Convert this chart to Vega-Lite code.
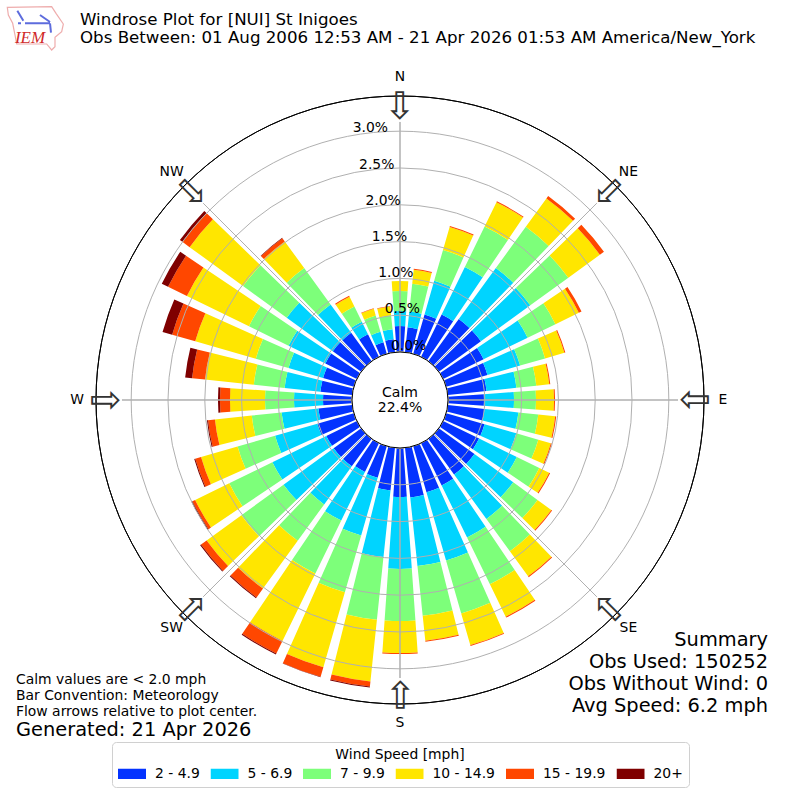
{
  "$schema": "https://vega.github.io/schema/vega-lite/v6.json",
  "width": 800,
  "height": 800,
  "padding": 0,
  "autosize": {"type": "fit", "contains": "padding"},
  "background": "white",
  "config": {"view": {"stroke": null}, "font": "DejaVu Sans"},
  "datasets": {
    "rose": [
      {"dir":0,"speed":"2 - 4.9","pct":0.353},{"dir":0,"speed":"5 - 6.9","pct":0.204},{"dir":0,"speed":"7 - 9.9","pct":0.272},{"dir":0,"speed":"10 - 14.9","pct":0.136},
      {"dir":10,"speed":"2 - 4.9","pct":0.34},{"dir":10,"speed":"5 - 6.9","pct":0.217},{"dir":10,"speed":"7 - 9.9","pct":0.38},{"dir":10,"speed":"10 - 14.9","pct":0.19},{"dir":10,"speed":"15 - 19.9","pct":0.014},
      {"dir":20,"speed":"2 - 4.9","pct":0.557},{"dir":20,"speed":"5 - 6.9","pct":0.476},{"dir":20,"speed":"7 - 9.9","pct":0.435},{"dir":20,"speed":"10 - 14.9","pct":0.326},{"dir":20,"speed":"15 - 19.9","pct":0.014},
      {"dir":30,"speed":"2 - 4.9","pct":0.639},{"dir":30,"speed":"5 - 6.9","pct":0.72},{"dir":30,"speed":"7 - 9.9","pct":0.611},{"dir":30,"speed":"10 - 14.9","pct":0.367},{"dir":30,"speed":"15 - 19.9","pct":0.014},
      {"dir":40,"speed":"2 - 4.9","pct":0.707},{"dir":40,"speed":"5 - 6.9","pct":0.856},{"dir":40,"speed":"7 - 9.9","pct":0.693},{"dir":40,"speed":"10 - 14.9","pct":0.476},{"dir":40,"speed":"15 - 19.9","pct":0.041},
      {"dir":50,"speed":"2 - 4.9","pct":0.707},{"dir":50,"speed":"5 - 6.9","pct":0.829},{"dir":50,"speed":"7 - 9.9","pct":0.639},{"dir":50,"speed":"10 - 14.9","pct":0.53},{"dir":50,"speed":"15 - 19.9","pct":0.068},
      {"dir":60,"speed":"2 - 4.9","pct":0.611},{"dir":60,"speed":"5 - 6.9","pct":0.666},{"dir":60,"speed":"7 - 9.9","pct":0.421},{"dir":60,"speed":"10 - 14.9","pct":0.353},{"dir":60,"speed":"15 - 19.9","pct":0.041},
      {"dir":70,"speed":"2 - 4.9","pct":0.584},{"dir":70,"speed":"5 - 6.9","pct":0.462},{"dir":70,"speed":"7 - 9.9","pct":0.353},{"dir":70,"speed":"10 - 14.9","pct":0.272},{"dir":70,"speed":"15 - 19.9","pct":0.014},
      {"dir":80,"speed":"2 - 4.9","pct":0.53},{"dir":80,"speed":"5 - 6.9","pct":0.408},{"dir":80,"speed":"7 - 9.9","pct":0.272},{"dir":80,"speed":"10 - 14.9","pct":0.177},{"dir":80,"speed":"15 - 19.9","pct":0.014},
      {"dir":90,"speed":"2 - 4.9","pct":0.489},{"dir":90,"speed":"5 - 6.9","pct":0.408},{"dir":90,"speed":"7 - 9.9","pct":0.299},{"dir":90,"speed":"10 - 14.9","pct":0.245},{"dir":90,"speed":"15 - 19.9","pct":0.014},
      {"dir":100,"speed":"2 - 4.9","pct":0.503},{"dir":100,"speed":"5 - 6.9","pct":0.462},{"dir":100,"speed":"7 - 9.9","pct":0.272},{"dir":100,"speed":"10 - 14.9","pct":0.231},{"dir":100,"speed":"15 - 19.9","pct":0.014},
      {"dir":110,"speed":"2 - 4.9","pct":0.543},{"dir":110,"speed":"5 - 6.9","pct":0.448},{"dir":110,"speed":"7 - 9.9","pct":0.312},{"dir":110,"speed":"10 - 14.9","pct":0.177},{"dir":110,"speed":"15 - 19.9","pct":0.014},
      {"dir":120,"speed":"2 - 4.9","pct":0.543},{"dir":120,"speed":"5 - 6.9","pct":0.571},{"dir":120,"speed":"7 - 9.9","pct":0.34},{"dir":120,"speed":"10 - 14.9","pct":0.149},{"dir":120,"speed":"15 - 19.9","pct":0.014},
      {"dir":130,"speed":"2 - 4.9","pct":0.598},{"dir":130,"speed":"5 - 6.9","pct":0.652},{"dir":130,"speed":"7 - 9.9","pct":0.408},{"dir":130,"speed":"10 - 14.9","pct":0.231},{"dir":130,"speed":"15 - 19.9","pct":0.014},
      {"dir":140,"speed":"2 - 4.9","pct":0.598},{"dir":140,"speed":"5 - 6.9","pct":0.747},{"dir":140,"speed":"7 - 9.9","pct":0.543},{"dir":140,"speed":"10 - 14.9","pct":0.421},{"dir":140,"speed":"15 - 19.9","pct":0.014},
      {"dir":150,"speed":"2 - 4.9","pct":0.639},{"dir":150,"speed":"5 - 6.9","pct":0.788},{"dir":150,"speed":"7 - 9.9","pct":0.707},{"dir":150,"speed":"10 - 14.9","pct":0.489},{"dir":150,"speed":"15 - 19.9","pct":0.014},
      {"dir":160,"speed":"2 - 4.9","pct":0.652},{"dir":160,"speed":"5 - 6.9","pct":0.965},{"dir":160,"speed":"7 - 9.9","pct":0.747},{"dir":160,"speed":"10 - 14.9","pct":0.448},{"dir":160,"speed":"15 - 19.9","pct":0.014},
      {"dir":170,"speed":"2 - 4.9","pct":0.679},{"dir":170,"speed":"5 - 6.9","pct":0.938},{"dir":170,"speed":"7 - 9.9","pct":0.679},{"dir":170,"speed":"10 - 14.9","pct":0.34},{"dir":170,"speed":"15 - 19.9","pct":0.014},
      {"dir":180,"speed":"2 - 4.9","pct":0.666},{"dir":180,"speed":"5 - 6.9","pct":0.978},{"dir":180,"speed":"7 - 9.9","pct":0.707},{"dir":180,"speed":"10 - 14.9","pct":0.435},{"dir":180,"speed":"15 - 19.9","pct":0.014},
      {"dir":190,"speed":"2 - 4.9","pct":0.584},{"dir":190,"speed":"5 - 6.9","pct":0.91},{"dir":190,"speed":"7 - 9.9","pct":0.856},{"dir":190,"speed":"10 - 14.9","pct":0.842},{"dir":190,"speed":"15 - 19.9","pct":0.068},{"dir":190,"speed":"20+","pct":0.014},
      {"dir":200,"speed":"2 - 4.9","pct":0.448},{"dir":200,"speed":"5 - 6.9","pct":0.815},{"dir":200,"speed":"7 - 9.9","pct":0.802},{"dir":200,"speed":"10 - 14.9","pct":1.06},{"dir":200,"speed":"15 - 19.9","pct":0.136},{"dir":200,"speed":"20+","pct":0.007},
      {"dir":210,"speed":"2 - 4.9","pct":0.435},{"dir":210,"speed":"5 - 6.9","pct":0.734},{"dir":210,"speed":"7 - 9.9","pct":0.802},{"dir":210,"speed":"10 - 14.9","pct":1.019},{"dir":210,"speed":"15 - 19.9","pct":0.19},{"dir":210,"speed":"20+","pct":0.014},
      {"dir":220,"speed":"2 - 4.9","pct":0.462},{"dir":220,"speed":"5 - 6.9","pct":0.639},{"dir":220,"speed":"7 - 9.9","pct":0.611},{"dir":220,"speed":"10 - 14.9","pct":0.802},{"dir":220,"speed":"15 - 19.9","pct":0.149},{"dir":220,"speed":"20+","pct":0.014},
      {"dir":230,"speed":"2 - 4.9","pct":0.462},{"dir":230,"speed":"5 - 6.9","pct":0.842},{"dir":230,"speed":"7 - 9.9","pct":0.707},{"dir":230,"speed":"10 - 14.9","pct":0.584},{"dir":230,"speed":"15 - 19.9","pct":0.095},{"dir":230,"speed":"20+","pct":0.014},
      {"dir":240,"speed":"2 - 4.9","pct":0.462},{"dir":240,"speed":"5 - 6.9","pct":0.815},{"dir":240,"speed":"7 - 9.9","pct":0.652},{"dir":240,"speed":"10 - 14.9","pct":0.516},{"dir":240,"speed":"15 - 19.9","pct":0.041},{"dir":240,"speed":"20+","pct":0.014},
      {"dir":250,"speed":"2 - 4.9","pct":0.516},{"dir":250,"speed":"5 - 6.9","pct":0.598},{"dir":250,"speed":"7 - 9.9","pct":0.53},{"dir":250,"speed":"10 - 14.9","pct":0.516},{"dir":250,"speed":"15 - 19.9","pct":0.082},{"dir":250,"speed":"20+","pct":0.014},
      {"dir":260,"speed":"2 - 4.9","pct":0.462},{"dir":260,"speed":"5 - 6.9","pct":0.503},{"dir":260,"speed":"7 - 9.9","pct":0.408},{"dir":260,"speed":"10 - 14.9","pct":0.503},{"dir":260,"speed":"15 - 19.9","pct":0.095},{"dir":260,"speed":"20+","pct":0.014},
      {"dir":270,"speed":"2 - 4.9","pct":0.394},{"dir":270,"speed":"5 - 6.9","pct":0.394},{"dir":270,"speed":"7 - 9.9","pct":0.394},{"dir":270,"speed":"10 - 14.9","pct":0.476},{"dir":270,"speed":"15 - 19.9","pct":0.136},{"dir":270,"speed":"20+","pct":0.027},
      {"dir":280,"speed":"2 - 4.9","pct":0.435},{"dir":280,"speed":"5 - 6.9","pct":0.489},{"dir":280,"speed":"7 - 9.9","pct":0.421},{"dir":280,"speed":"10 - 14.9","pct":0.666},{"dir":280,"speed":"15 - 19.9","pct":0.177},{"dir":280,"speed":"20+","pct":0.095},
      {"dir":290,"speed":"2 - 4.9","pct":0.435},{"dir":290,"speed":"5 - 6.9","pct":0.489},{"dir":290,"speed":"7 - 9.9","pct":0.462},{"dir":290,"speed":"10 - 14.9","pct":0.856},{"dir":290,"speed":"15 - 19.9","pct":0.326},{"dir":290,"speed":"20+","pct":0.136},
      {"dir":300,"speed":"2 - 4.9","pct":0.476},{"dir":300,"speed":"5 - 6.9","pct":0.557},{"dir":300,"speed":"7 - 9.9","pct":0.598},{"dir":300,"speed":"10 - 14.9","pct":0.938},{"dir":300,"speed":"15 - 19.9","pct":0.285},{"dir":300,"speed":"20+","pct":0.095},
      {"dir":310,"speed":"2 - 4.9","pct":0.476},{"dir":310,"speed":"5 - 6.9","pct":0.774},{"dir":310,"speed":"7 - 9.9","pct":0.734},{"dir":310,"speed":"10 - 14.9","pct":0.897},{"dir":310,"speed":"15 - 19.9","pct":0.122},{"dir":310,"speed":"20+","pct":0.041},
      {"dir":320,"speed":"2 - 4.9","pct":0.476},{"dir":320,"speed":"5 - 6.9","pct":0.476},{"dir":320,"speed":"7 - 9.9","pct":0.611},{"dir":320,"speed":"10 - 14.9","pct":0.448},{"dir":320,"speed":"15 - 19.9","pct":0.054},{"dir":320,"speed":"20+","pct":0.007},
      {"dir":330,"speed":"2 - 4.9","pct":0.34},{"dir":330,"speed":"5 - 6.9","pct":0.19},{"dir":330,"speed":"7 - 9.9","pct":0.231},{"dir":330,"speed":"10 - 14.9","pct":0.149},{"dir":330,"speed":"15 - 19.9","pct":0.014},
      {"dir":340,"speed":"2 - 4.9","pct":0.163},{"dir":340,"speed":"5 - 6.9","pct":0.149},{"dir":340,"speed":"7 - 9.9","pct":0.231},{"dir":340,"speed":"10 - 14.9","pct":0.095},{"dir":340,"speed":"15 - 19.9","pct":0.007},
      {"dir":350,"speed":"2 - 4.9","pct":0.177},{"dir":350,"speed":"5 - 6.9","pct":0.136},{"dir":350,"speed":"7 - 9.9","pct":0.19},{"dir":350,"speed":"10 - 14.9","pct":0.122},{"dir":350,"speed":"15 - 19.9","pct":0.007}
    ],
    "rings": [
      {"pct":0.0,"label":"0.0%"},{"pct":0.5,"label":"0.5%"},{"pct":1.0,"label":"1.0%"},{"pct":1.5,"label":"1.5%"},
      {"pct":2.0,"label":"2.0%"},{"pct":2.5,"label":"2.5%"},{"pct":3.0,"label":"3.0%"}
    ],
    "compass": [
      {"name":"N","deg":0},{"name":"NE","deg":45},{"name":"E","deg":90},{"name":"SE","deg":135},
      {"name":"S","deg":180},{"name":"SW","deg":225},{"name":"W","deg":270},{"name":"NW","deg":315}
    ]
  },
  "resolve": {"scale": {"theta": "independent", "x": "independent", "y": "independent"}},
  "layer": [
    {
      "data": {"name": "rose"},
      "transform": [{"stack": "pct", "groupby": ["dir"], "as": ["pct0", "pct1"]}],
      "mark": {"type": "arc"},
      "encoding": {
        "theta": {"field": "dir", "type": "ordinal", "scale": {"type": "band", "range": [-0.0873, 6.1959], "paddingInner": 0.2, "paddingOuter": 0.1}},
        "radius": {"field": "pct1", "type": "quantitative", "scale": {"domain": [0, 3.478], "range": [48, 304]}},
        "radius2": {"field": "pct0"},
        "color": {
          "field": "speed",
          "type": "nominal",
          "scale": {
            "domain": ["2 - 4.9", "5 - 6.9", "7 - 9.9", "10 - 14.9", "15 - 19.9", "20+"],
            "range": ["#0433ff", "#00d4ff", "#7dff7a", "#ffe600", "#ff4700", "#7f0000"]
          },
          "legend": {
            "title": "Wind Speed [mph]",
            "orient": "none",
            "legendX": 112,
            "legendY": 742,
            "direction": "horizontal",
            "columns": 6,
            "titleAnchor": "middle",
            "titleFontSize": 13.9,
            "titleFontWeight": "normal",
            "titleColor": "black",
            "titlePadding": 5,
            "labelFontSize": 13.9,
            "labelColor": "black",
            "labelOffset": 9,
            "symbolType": "M-1,-0.36H1V0.36H-1Z",
            "symbolSize": 784,
            "symbolStrokeWidth": 0,
            "clipHeight": 14,
            "columnPadding": 10.5,
            "rowPadding": 0,
            "padding": 6,
            "fillColor": "white",
            "strokeColor": "#d0d0d0",
            "cornerRadius": 4
          }
        }
      }
    },
    {
      "data": {"name": "rings"},
      "transform": [{"filter": "datum.pct > 0"}],
      "mark": {"type": "arc", "theta": 0, "theta2": 6.2832, "fill": null, "stroke": "#b0b0b0", "strokeWidth": 1},
      "encoding": {
        "radius": {"field": "pct", "type": "quantitative", "stack": null, "scale": {"domain": [0, 3.478], "range": [48, 304]}}
      }
    },
    {
      "data": {"name": "compass"},
      "mark": {"type": "arc", "fill": null, "stroke": "#b0b0b0", "strokeWidth": 1},
      "encoding": {
        "theta": {"field": "deg", "type": "quantitative", "stack": null, "scale": {"domain": [0, 360], "range": [0, 6.2832]}},
        "theta2": {"field": "deg"},
        "radius": {"datum": 3.125, "scale": {"domain": [0, 3.478], "range": [48, 304]}},
        "radius2": {"datum": 0}
      }
    },
    {
      "data": {"values": [{"edge": "calm"}]},
      "mark": {"type": "arc", "theta": 0, "theta2": 6.2832, "fill": "white", "stroke": "black", "strokeWidth": 1},
      "encoding": {"radius": {"datum": 0, "scale": {"domain": [0, 3.478], "range": [48, 304]}}, "radius2": {"value": 0}}
    },
    {
      "data": {"values": [{"edge": "outer"}]},
      "mark": {"type": "arc", "theta": 0, "theta2": 6.2832, "fill": null, "stroke": "black", "strokeWidth": 1},
      "encoding": {"radius": {"datum": 3.478, "scale": {"domain": [0, 3.478], "range": [48, 304]}}, "radius2": {"datum": 3.478}}
    },
    {
      "data": {"name": "rings"},
      "mark": {"type": "text", "theta": 6.1087, "dx": 17, "dy": -7, "fontSize": 13.9, "color": "black", "align": "center", "baseline": "middle"},
      "encoding": {
        "radius": {"field": "pct", "type": "quantitative", "scale": {"domain": [0, 3.478], "range": [48, 304]}},
        "text": {"field": "label"}
      }
    },
    {
      "data": {"name": "compass"},
      "mark": {"type": "text", "fontSize": 13.9, "color": "black", "align": "center", "baseline": "middle"},
      "encoding": {
        "theta": {"field": "deg", "type": "quantitative", "scale": {"domain": [0, 360], "range": [0, 6.2832]}},
        "radius": {"value": 323},
        "text": {"field": "name"}
      }
    },
    {
      "data": {"name": "compass"},
      "mark": {"type": "text", "text": "⇩", "font": "DejaVu Sans", "fontSize": 38, "fill": "#333333", "align": "center", "baseline": "middle"},
      "encoding": {
        "theta": {"field": "deg", "type": "quantitative", "scale": {"domain": [0, 360], "range": [0, 6.2832]}},
        "radius": {"value": 292},
        "angle": {"field": "deg", "type": "quantitative", "scale": {"domain": [0, 360], "range": [0, 360]}}
      }
    },
    {
      "data": {"values": [{"text": ["Calm", "22.4%"]}]},
      "mark": {"type": "text", "fontSize": 14, "lineHeight": 15, "dy": -7.5, "color": "black", "align": "center", "baseline": "middle"},
      "encoding": {"text": {"field": "text"}}
    },
    {
      "data": {"values": [
        {"side": "left", "line": "1", "text": "Windrose Plot for [NUI] St Inigoes"},
        {"side": "left", "line": "2", "text": "Obs Between: 01 Aug 2006 12:53 AM - 21 Apr 2026 01:53 AM America/New_York"}
      ]},
      "mark": {"type": "text", "fontSize": 16.67, "color": "black", "align": "left", "baseline": "middle"},
      "encoding": {
        "x": {"field": "side", "type": "nominal", "axis": null, "scale": {"type": "point", "domain": ["left", "right"], "range": [80, 800], "padding": 0}},
        "y": {"field": "line", "type": "nominal", "axis": null, "scale": {"type": "point", "domain": ["1", "2"], "range": [20, 38], "padding": 0}},
        "text": {"field": "text"}
      }
    },
    {
      "data": {"values": [
        {"side": "left", "line": "1", "text": "Calm values are < 2.0 mph"},
        {"side": "left", "line": "2", "text": "Bar Convention: Meteorology"},
        {"side": "left", "line": "3", "text": "Flow arrows relative to plot center."}
      ]},
      "mark": {"type": "text", "fontSize": 13.9, "color": "black", "align": "left", "baseline": "middle"},
      "encoding": {
        "x": {"field": "side", "type": "nominal", "axis": null, "scale": {"type": "point", "domain": ["left", "right"], "range": [16, 768], "padding": 0}},
        "y": {"field": "line", "type": "nominal", "axis": null, "scale": {"type": "point", "domain": ["1", "2", "3"], "range": [680, 712], "padding": 0}},
        "text": {"field": "text"}
      }
    },
    {
      "data": {"values": [{"side": "left", "line": "1", "text": "Generated: 21 Apr 2026"}]},
      "mark": {"type": "text", "fontSize": 19.4, "color": "black", "align": "left", "baseline": "middle"},
      "encoding": {
        "x": {"field": "side", "type": "nominal", "axis": null, "scale": {"type": "point", "domain": ["left", "right"], "range": [16, 768], "padding": 0}},
        "y": {"field": "line", "type": "nominal", "axis": null, "scale": {"type": "point", "domain": ["1", "2"], "range": [730, 800], "padding": 0}},
        "text": {"field": "text"}
      }
    },
    {
      "data": {"values": [
        {"side": "right", "line": "1", "text": "Summary"},
        {"side": "right", "line": "2", "text": "Obs Used: 150252"},
        {"side": "right", "line": "3", "text": "Obs Without Wind: 0"},
        {"side": "right", "line": "4", "text": "Avg Speed: 6.2 mph"}
      ]},
      "mark": {"type": "text", "fontSize": 19.4, "color": "black", "align": "right", "baseline": "middle"},
      "encoding": {
        "x": {"field": "side", "type": "nominal", "axis": null, "scale": {"type": "point", "domain": ["left", "right"], "range": [16, 768], "padding": 0}},
        "y": {"field": "line", "type": "nominal", "axis": null, "scale": {"type": "point", "domain": ["1", "2", "3", "4"], "range": [640, 706], "padding": 0}},
        "text": {"field": "text"}
      }
    },
    {
      "data": {"values": [{"side": "logo", "line": "logo"}]},
      "mark": {"type": "point", "filled": false, "size": 3600, "stroke": "#e88a8a", "strokeWidth": 1.2, "shape": "M-0.956,-0.689L0.522,-0.711L0.667,-0.489L0.911,-0.133L0.856,0.122L0.633,0.311L0.633,0.622L0.522,0.733L0.356,0.533L-0.644,0.533L-0.7,0.233L-0.778,-0.156L-0.922,-0.433Z"},
      "encoding": {
        "x": {"field": "side", "type": "nominal", "axis": null, "scale": {"type": "point", "domain": ["logo", "end"], "range": [36, 800], "padding": 0}},
        "y": {"field": "line", "type": "nominal", "axis": null, "scale": {"type": "point", "domain": ["logo", "end"], "range": [28, 800], "padding": 0}}
      }
    },
    {
      "data": {"values": [{"side": "logo", "line": "logo"}]},
      "mark": {"type": "point", "filled": false, "size": 3600, "stroke": "#1a2fd0", "strokeWidth": 2, "shape": "M-0.367,-0.156L0.467,-0.156M-0.622,-0.578L-0.422,-0.244M0.133,-0.433L0.467,-0.2M0.467,-0.156L0.5,0.156M-0.6,-0.156L-0.5,-0.156"},
      "encoding": {
        "x": {"field": "side", "type": "nominal", "axis": null, "scale": {"type": "point", "domain": ["logo", "end"], "range": [36, 800], "padding": 0}},
        "y": {"field": "line", "type": "nominal", "axis": null, "scale": {"type": "point", "domain": ["logo", "end"], "range": [28, 800], "padding": 0}}
      }
    },
    {
      "data": {"values": [{"side": "logo", "line": "logo", "text": "IEM"}]},
      "mark": {"type": "text", "font": "Liberation Serif", "fontStyle": "italic", "fontSize": 17, "color": "#d02828", "align": "center", "baseline": "middle"},
      "encoding": {
        "x": {"field": "side", "type": "nominal", "axis": null, "scale": {"type": "point", "domain": ["logo", "end"], "range": [30, 800], "padding": 0}},
        "y": {"field": "line", "type": "nominal", "axis": null, "scale": {"type": "point", "domain": ["logo", "end"], "range": [38, 800], "padding": 0}},
        "text": {"field": "text"}
      }
    }
  ]
}
